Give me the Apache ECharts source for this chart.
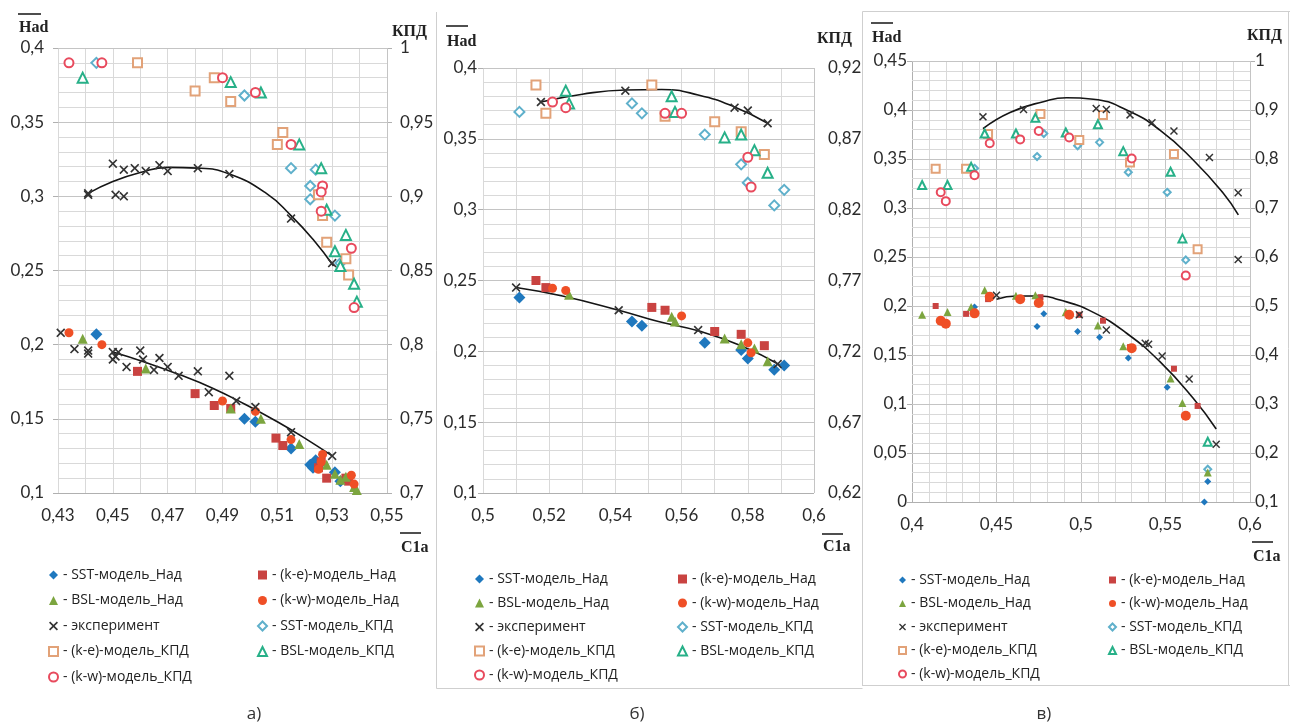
<!DOCTYPE html>
<html>
<head>
<meta charset="utf-8">
<script src="https://cdn.jsdelivr.net/npm/echarts@6/dist/echarts.min.js"></script>
<style>
  html, body { margin: 0; padding: 0; background: #fff; }
  #chart { width: 1290px; height: 728px; }
</style>
</head>
<body>
<div id="chart"></div>
<script>
// ---------- Panel а) : C1a = 0.43 … 0.55 ----------
const a_sst_had = [[0.444,0.207],[0.498,0.150],[0.502,0.148],[0.515,0.130],[0.522,0.119],[0.524,0.122],[0.523,0.117],[0.531,0.114],[0.533,0.108]];
const a_ke_had  = [[0.459,0.182],[0.480,0.167],[0.487,0.159],[0.493,0.157],[0.5095,0.137],[0.512,0.132],[0.525,0.117],[0.526,0.121],[0.528,0.110],[0.535,0.110],[0.536,0.108]];
const a_bsl_had = [[0.439,0.204],[0.462,0.184],[0.493,0.157],[0.504,0.150],[0.518,0.133],[0.528,0.119],[0.531,0.113],[0.533,0.109],[0.535,0.111],[0.538,0.104],[0.539,0.102]];
const a_kw_had  = [[0.434,0.208],[0.446,0.200],[0.490,0.162],[0.502,0.155],[0.515,0.136],[0.5265,0.126],[0.526,0.121],[0.525,0.116],[0.537,0.112],[0.538,0.106]];
const a_exp_had = [[0.431,0.208],[0.436,0.197],[0.441,0.196],[0.441,0.194],[0.450,0.195],[0.450,0.190],[0.451,0.192],[0.452,0.195],[0.455,0.185],[0.460,0.196],[0.461,0.190],[0.465,0.183],[0.467,0.191],[0.470,0.185],[0.474,0.179],[0.481,0.182],[0.485,0.168],[0.4925,0.179],[0.495,0.162],[0.502,0.158],[0.515,0.141],[0.530,0.125]];
const a_exp_had_trend = [[0.450,0.195],[0.462,0.188],[0.474,0.180],[0.486,0.171],[0.498,0.160],[0.510,0.148],[0.520,0.137],[0.530,0.125]];
const a_sst_kpd = [[0.444,0.990],[0.498,0.968],[0.515,0.919],[0.524,0.918],[0.522,0.907],[0.522,0.898],[0.531,0.887],[0.533,0.855]];
const a_ke_kpd  = [[0.459,0.990],[0.480,0.971],[0.487,0.980],[0.493,0.964],[0.512,0.943],[0.510,0.935],[0.525,0.901],[0.5265,0.887],[0.528,0.869],[0.535,0.858],[0.536,0.847]];
const a_bsl_kpd = [[0.439,0.980],[0.493,0.977],[0.504,0.970],[0.518,0.935],[0.526,0.919],[0.528,0.891],[0.531,0.863],[0.535,0.874],[0.533,0.853],[0.538,0.841],[0.539,0.829]];
const a_kw_kpd  = [[0.434,0.990],[0.446,0.990],[0.490,0.980],[0.502,0.970],[0.515,0.935],[0.5265,0.907],[0.526,0.903],[0.526,0.890],[0.537,0.865],[0.538,0.825]];
const a_exp_kpd = [[0.441,0.901],[0.441,0.902],[0.451,0.901],[0.454,0.900],[0.450,0.922],[0.454,0.918],[0.458,0.919],[0.462,0.917],[0.467,0.921],[0.470,0.917],[0.481,0.919],[0.4925,0.915],[0.515,0.885],[0.530,0.855]];
const a_exp_kpd_trend = [[0.441,0.902],[0.450,0.910],[0.460,0.916],[0.470,0.9195],[0.481,0.919],[0.4925,0.915],[0.506,0.902],[0.515,0.887],[0.523,0.871],[0.5305,0.853]];

// ---------- Panel б) : C1a = 0.5 … 0.6 ----------
const b_sst_had = [[0.511,0.238],[0.545,0.221],[0.548,0.218],[0.567,0.206],[0.578,0.201],[0.580,0.195],[0.588,0.187],[0.591,0.190]];
const b_ke_had  = [[0.516,0.250],[0.519,0.245],[0.551,0.231],[0.555,0.229],[0.570,0.214],[0.578,0.212],[0.585,0.204]];
const b_bsl_had = [[0.526,0.240],[0.557,0.2245],[0.558,0.221],[0.573,0.209],[0.578,0.205],[0.582,0.202],[0.586,0.193]];
const b_kw_had  = [[0.521,0.2445],[0.525,0.243],[0.560,0.225],[0.580,0.206],[0.581,0.199]];
const b_exp_had = [[0.510,0.245],[0.541,0.229],[0.565,0.215],[0.589,0.191]];
const b_exp_had_trend = [[0.510,0.245],[0.524,0.239],[0.541,0.229],[0.553,0.221],[0.565,0.2145],[0.578,0.204],[0.590,0.190]];
const b_sst_kpd = [[0.511,0.889],[0.545,0.895],[0.548,0.888],[0.567,0.873],[0.578,0.852],[0.580,0.839],[0.588,0.823],[0.591,0.834]];
const b_ke_kpd  = [[0.516,0.908],[0.519,0.888],[0.551,0.908],[0.555,0.886],[0.570,0.882],[0.578,0.875],[0.585,0.859]];
const b_bsl_kpd = [[0.525,0.904],[0.526,0.895],[0.557,0.900],[0.558,0.889],[0.573,0.871],[0.578,0.873],[0.582,0.862],[0.586,0.846]];
const b_kw_kpd  = [[0.521,0.896],[0.525,0.892],[0.555,0.888],[0.560,0.888],[0.580,0.857],[0.581,0.836]];
const b_exp_kpd = [[0.5175,0.896],[0.543,0.904],[0.576,0.892],[0.580,0.890],[0.586,0.881]];
const b_exp_kpd_trend = [[0.5175,0.896],[0.530,0.9015],[0.543,0.9045],[0.554,0.9048],[0.565,0.901],[0.576,0.8925],[0.586,0.881]];

// ---------- Panel в) : C1a = 0.4 … 0.6 ----------
const c_sst_had = [[0.437,0.199],[0.474,0.179],[0.478,0.192],[0.498,0.174],[0.511,0.168],[0.528,0.147],[0.551,0.117],[0.575,0.021],[0.573,0.000]];
const c_ke_had  = [[0.414,0.200],[0.432,0.192],[0.445,0.207],[0.476,0.209],[0.499,0.191],[0.513,0.185],[0.529,0.158],[0.555,0.136],[0.569,0.098]];
const c_bsl_had = [[0.406,0.191],[0.421,0.194],[0.435,0.199],[0.443,0.216],[0.4615,0.2105],[0.473,0.211],[0.491,0.194],[0.510,0.180],[0.525,0.159],[0.553,0.126],[0.560,0.101],[0.575,0.030]];
const c_kw_had  = [[0.417,0.185],[0.420,0.182],[0.437,0.1925],[0.446,0.2095],[0.464,0.207],[0.475,0.203],[0.493,0.191],[0.530,0.157],[0.562,0.088]];
const c_exp_had = [[0.450,0.211],[0.499,0.191],[0.515,0.1755],[0.538,0.162],[0.540,0.161],[0.548,0.149],[0.564,0.1255],[0.580,0.059]];
const c_exp_had_trend = [[0.450,0.2068],[0.462,0.2102],[0.4738,0.2102],[0.4876,0.2061],[0.5073,0.1935],[0.527,0.1722],[0.5467,0.1432],[0.5664,0.1058],[0.580,0.0745]];
const c_sst_kpd = [[0.437,0.781],[0.474,0.805],[0.478,0.852],[0.498,0.827],[0.511,0.834],[0.528,0.773],[0.551,0.732],[0.562,0.594],[0.575,0.167]];
const c_ke_kpd  = [[0.414,0.780],[0.432,0.780],[0.445,0.851],[0.476,0.892],[0.499,0.839],[0.513,0.890],[0.529,0.793],[0.555,0.810],[0.569,0.616]];
const c_bsl_kpd = [[0.406,0.747],[0.421,0.747],[0.435,0.784],[0.443,0.852],[0.4615,0.852],[0.473,0.884],[0.491,0.854],[0.510,0.871],[0.525,0.816],[0.553,0.774],[0.560,0.638],[0.575,0.223]];
const c_kw_kpd  = [[0.417,0.732],[0.420,0.714],[0.437,0.767],[0.446,0.832],[0.464,0.840],[0.475,0.857],[0.493,0.844],[0.530,0.801],[0.562,0.562]];
const c_exp_kpd = [[0.442,0.886],[0.466,0.901],[0.509,0.903],[0.515,0.901],[0.529,0.890],[0.542,0.874],[0.555,0.857],[0.576,0.803],[0.593,0.731],[0.593,0.595]];
const c_exp_kpd_trend = [[0.442,0.862],[0.458,0.895],[0.4777,0.917],[0.4915,0.925],[0.5073,0.922],[0.527,0.900],[0.5467,0.859],[0.5664,0.798],[0.5842,0.730],[0.5931,0.686]];

// ---------- Series names (legend) ----------
const N_SST_H = 'SST-модель_Над';
const N_KE_H  = '(k-e)-модель_Над';
const N_BSL_H = 'BSL-модель_Над';
const N_KW_H  = '(k-w)-модель_Над';
const N_EXP   = 'эксперимент';
const N_SST_K = 'SST-модель_КПД';
const N_KE_K  = '(k-e)-модель_КПД';
const N_BSL_K = 'BSL-модель_КПД';
const N_KW_K  = '(k-w)-модель_КПД';
const legendLeftCol  = [N_SST_H, N_BSL_H, N_EXP, N_KE_K, N_KW_K];
const legendRightCol = [N_KE_H, N_KW_H, N_SST_K, N_BSL_K];

// ---------- Styles ----------
const COL = {
  sstH: '#1F78BE', keH: '#C94341', bslH: '#7CA53F', kwH: '#EF4F26', exp: '#333333',
  sstK: '#5FB0CB', keK: '#E2A278', bslK: '#27B088', kwK: '#E84A5D'
};
const CROSS = 'path://M0,1.3L1.3,0L5,3.7L8.7,0L10,1.3L6.3,5L10,8.7L8.7,10L5,6.3L1.3,10L0,8.7L3.7,5Z';
const GRID_MAJOR = '#c4c4c4';
const GRID_MINOR = '#d9d9d9';
const AXIS_COL = '#b0b0b0';
const LABEL_FONT = 'Lato';
const LABEL_COL = '#2b2b2b';

function fmtNum(v) {
  return String(Math.round(v * 10000) / 10000).replace('.', ',');
}

function scatter(name, data, xi, yi, symbol, size, color) {
  const s = {
    type: 'scatter', name: name, data: data,
    xAxisIndex: xi, yAxisIndex: yi,
    symbol: symbol, symbolSize: size,
    itemStyle: { color: color, opacity: 1 },
    emphasis: { disabled: true },
    silent: true, z: 4
  };
  if (symbol.indexOf('empty') === 0) s.itemStyle.borderWidth = 1.3;
  return s;
}

function trend(data, xi, yi) {
  return {
    type: 'line', data: data, xAxisIndex: xi, yAxisIndex: yi,
    smooth: 0.5, showSymbol: false, symbol: 'none',
    lineStyle: { color: '#151515', width: 1.6 },
    silent: true, z: 3
  };
}

// Grid lines of a panel: one vertical mark line per x step and one horizontal per y step,
// placed through the panel's own axes; every `major`-th line is a little darker.
function steps(start, step, n) {
  const out = [];
  for (let k = 0; k <= n; k++) out.push(Math.round((start + step * k) * 10000) / 10000);
  return out;
}
function gridLines(xi, yi, anchor, xs, ys, major) {
  const style = function (k) {
    return { color: k === 0 ? AXIS_COL : (k % major === 0 ? GRID_MAJOR : GRID_MINOR), width: 1, type: 'solid' };
  };
  const items = [];
  xs.forEach(function (v, k) { items.push({ xAxis: v, lineStyle: style(k) }); });
  ys.forEach(function (v, k) { items.push({ yAxis: v, lineStyle: style(k) }); });
  return {
    type: 'line', xAxisIndex: xi, yAxisIndex: yi, data: [anchor],
    showSymbol: false, symbol: 'none', lineStyle: { opacity: 0 }, silent: true, z: 1,
    markLine: {
      silent: true, z: 1, symbol: ['none', 'none'], label: { show: false },
      emphasis: { disabled: true }, animation: false, data: items
    }
  };
}

function panelSeries(xi, yL, yR, d, big) {
  const s = big
    ? { dia: 12, rect: 9, tri: 10, cir: 9, x: 9, eDia: 10, eRect: 9, eTri: 10, eCir: 9 }
    : { dia: 7, rect: 6, tri: 8, cir: 10, x: 8, eDia: 7, eRect: 8, eTri: 8, eCir: 8 };
  return [
    scatter(N_SST_K, d.sstK, xi, yR, 'emptyDiamond', s.eDia, COL.sstK),
    scatter(N_KE_K,  d.keK,  xi, yR, 'emptyRect',    s.eRect, COL.keK),
    scatter(N_BSL_K, d.bslK, xi, yR, 'emptyTriangle', s.eTri, COL.bslK),
    scatter(N_KW_K,  d.kwK,  xi, yR, 'emptyCircle',  s.eCir, COL.kwK),
    scatter(N_SST_H, d.sstH, xi, yL, 'diamond',  s.dia,  COL.sstH),
    scatter(N_KE_H,  d.keH,  xi, yL, 'rect',     s.rect, COL.keH),
    scatter(N_BSL_H, d.bslH, xi, yL, 'triangle', s.tri,  COL.bslH),
    scatter(N_KW_H,  d.kwH,  xi, yL, 'circle',   s.cir,  COL.kwH),
    scatter(N_EXP,   d.expH, xi, yL, CROSS, s.x, COL.exp),
    scatter(N_EXP,   d.expK, xi, yR, CROSS, s.x, COL.exp),
    trend(d.expHT, xi, yL),
    trend(d.expKT, xi, yR)
  ];
}

// Each grid carries a hidden data x axis (even index) and a labelled x axis (odd index)
const series = [].concat(
  [
    gridLines(0, 0, [0.43, 0.1], steps(0.43, 0.004, 30), steps(0.1, 0.01, 30), 5),
    gridLines(2, 2, [0.5, 0.1], steps(0.5, 0.004, 25), steps(0.1, 0.01, 30), 5),
    gridLines(4, 4, [0.4, 0], steps(0.4, 0.01, 20), steps(0, 0.01, 45), 5)
  ],
  panelSeries(0, 0, 1, {
    sstH: a_sst_had, keH: a_ke_had, bslH: a_bsl_had, kwH: a_kw_had, expH: a_exp_had, expHT: a_exp_had_trend,
    sstK: a_sst_kpd, keK: a_ke_kpd, bslK: a_bsl_kpd, kwK: a_kw_kpd, expK: a_exp_kpd, expKT: a_exp_kpd_trend
  }, true),
  panelSeries(2, 2, 3, {
    sstH: b_sst_had, keH: b_ke_had, bslH: b_bsl_had, kwH: b_kw_had, expH: b_exp_had, expHT: b_exp_had_trend,
    sstK: b_sst_kpd, keK: b_ke_kpd, bslK: b_bsl_kpd, kwK: b_kw_kpd, expK: b_exp_kpd, expKT: b_exp_kpd_trend
  }, true),
  panelSeries(4, 4, 5, {
    sstH: c_sst_had, keH: c_ke_had, bslH: c_bsl_had, kwH: c_kw_had, expH: c_exp_had, expHT: c_exp_had_trend,
    sstK: c_sst_kpd, keK: c_ke_kpd, bslK: c_bsl_kpd, kwK: c_kw_kpd, expK: c_exp_kpd, expKT: c_exp_kpd_trend
  }, false)
);

// ---------- Axes (labels only; the grid is drawn by the mark lines above) ----------
const labelStyle = { fontFamily: LABEL_FONT, fontSize: 17, color: LABEL_COL };

function hiddenX(gi, min, max) {
  return { type: 'value', gridIndex: gi, position: 'top', min: min, max: max, show: false };
}

function xAxisDef(gi, min, max, interval, margin, formatter) {
  return {
    type: 'value', gridIndex: gi, position: 'bottom', min: min, max: max, interval: interval,
    axisLine: { show: false, onZero: false },
    axisTick: { show: false },
    axisLabel: Object.assign({ margin: margin, formatter: formatter || fmtNum }, labelStyle),
    splitLine: { show: false }
  };
}

function yLeft(gi, min, max, interval, margin) {
  return {
    type: 'value', gridIndex: gi, position: 'left', min: min, max: max, interval: interval,
    axisLine: { show: false },
    axisTick: { show: true, length: 5, lineStyle: { color: AXIS_COL } },
    axisLabel: Object.assign({ margin: margin, formatter: fmtNum }, labelStyle),
    splitLine: { show: false }
  };
}

function yRight(gi, min, max, interval, margin, formatter, ticks) {
  return {
    type: 'value', gridIndex: gi, position: 'right', min: min, max: max, interval: interval,
    axisLine: { show: false },
    axisTick: { show: ticks, length: 5, lineStyle: { color: AXIS_COL } },
    axisLabel: Object.assign({ margin: margin, formatter: formatter || fmtNum }, labelStyle),
    splitLine: { show: false }
  };
}

// panel а starts at 0.43: its labels come from an offset axis (0 … 0.12)
const A_X0 = 0.43;
const xAxes = [
  hiddenX(0, 0.43, 0.55),
  xAxisDef(0, 0, 0.12, 0.02, 14, function (v) { return fmtNum(v + A_X0); }),
  hiddenX(1, 0.5, 0.6),
  xAxisDef(1, 0.5, 0.6, 0.02, 14),
  hiddenX(2, 0.4, 0.6),
  xAxisDef(2, 0.4, 0.6, 0.05, 14)
];

const yAxes = [
  yLeft(0, 0.1, 0.4, 0.05, 14),
  yRight(0, 0.7, 1, 0.05, 13, null, true),
  yLeft(1, 0.1, 0.4, 0.05, 6),
  yRight(1, 0.62, 0.92, 0.01, 14, function (v) {
    return Math.round((v - 0.62) * 100) % 5 === 0 ? fmtNum(v) : '';
  }, false),
  yLeft(2, 0, 0.45, 0.05, 5),
  yRight(2, 0.1, 1, 0.1, 5, null, true)
];

// ---------- Legends (two columns per panel) ----------
function legendCol(names, left, top, gap, icon) {
  return {
    orient: 'vertical', left: left, top: top, itemGap: gap,
    itemWidth: icon, itemHeight: icon, selectedMode: false,
    data: names, formatter: '- {name}', padding: 0,
    textStyle: { fontFamily: 'Open Sans', fontSize: 14, lineHeight: 15, color: '#222', padding: [0, 0, 0, 0] }
  };
}
const legends = [
  legendCol(legendLeftCol, 48, 567.5, 10.5, 9),
  legendCol(legendRightCol, 257, 567.5, 10.5, 9),
  legendCol(legendLeftCol, 474, 571.5, 9, 9),
  legendCol(legendRightCol, 677, 571.5, 9, 9),
  legendCol(legendLeftCol, 898, 572.5, 8.5, 7),
  legendCol(legendRightCol, 1108, 572.5, 8.5, 7)
];

// ---------- Axis titles, panel captions, frames ----------
const TITLE_FONT = { fontFamily: 'Liberation Serif', fontWeight: 'bold', fontSize: 16, fill: '#222' };
function title(text, x, y) {
  return { type: 'text', x: x, y: y, silent: true,
    style: Object.assign({ text: text, verticalAlign: 'middle', align: 'left' }, TITLE_FONT) };
}
function bar(x1, y, x2) {
  return { type: 'line', silent: true, shape: { x1: x1, y1: y, x2: x2, y2: y },
    style: { stroke: '#222', lineWidth: 1.6 } };
}
function frame(x1, y1, x2, y2) {
  return { type: 'line', silent: true, shape: { x1: x1, y1: y1, x2: x2, y2: y2 },
    style: { stroke: '#cfcfcf', lineWidth: 1 } };
}
function caption(text, x) {
  return { type: 'text', x: x, y: 714, silent: true,
    style: { text: text, align: 'center', verticalAlign: 'middle', fontFamily: 'Open Sans', fontSize: 17, fill: '#333' } };
}

const graphics = [
  frame(436.5, 12, 436.5, 688.5),
  frame(436.5, 688.5, 862.5, 688.5),
  frame(862.5, 11.5, 862.5, 686),
  frame(862.5, 11.5, 1290, 11.5),
  frame(862.5, 685.5, 1290, 685.5),
  frame(1288.5, 11.5, 1288.5, 685.5),

  title('Had', 19, 28), bar(18, 14, 41),
  title('КПД', 392, 32),
  title('C1a', 401, 548), bar(400, 533, 421),

  title('Had', 447, 42), bar(446, 26, 468),
  title('КПД', 817, 39),
  title('C1a', 823, 547), bar(822, 534, 843),

  title('Had', 872, 38), bar(871, 23, 893),
  title('КПД', 1247, 36),
  title('C1a', 1253, 557), bar(1252, 542, 1273),

  caption('а)', 254),
  caption('б)', 637),
  caption('в)', 1044)
];

const chart = echarts.init(document.getElementById('chart'));
chart.setOption({
  animation: false,
  grid: [
    { left: 58, top: 48, width: 329, height: 445 },
    { left: 483, top: 68, width: 331, height: 425 },
    { left: 912, top: 61, width: 338, height: 441 }
  ],
  xAxis: xAxes,
  yAxis: yAxes,
  legend: legends,
  series: series,
  graphic: graphics
});
</script>
</body>
</html>
